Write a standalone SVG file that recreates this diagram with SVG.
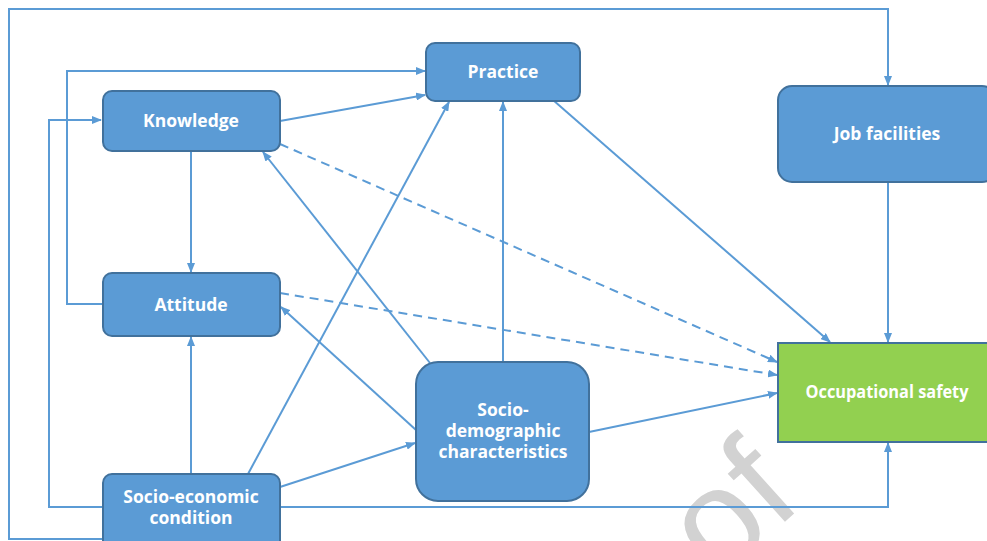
<svg xmlns="http://www.w3.org/2000/svg" width="987" height="541" viewBox="0 0 987 541">
<defs>
<marker id="ah" markerWidth="10" markerHeight="8" refX="9" refY="4" orient="auto" markerUnits="userSpaceOnUse">
<path d="M0,0 L10,4 L0,8 Z" fill="#5b9bd5"/>
</marker>
<style>
.c{fill:none;stroke:#5b9bd5;stroke-width:2;marker-end:url(#ah)}
.d{stroke-dasharray:9,6}
.b{fill:#5b9bd5;stroke:#41719c;stroke-width:2}
.g{fill:#92d050;stroke:#41719c;stroke-width:2}
.t{fill:#fff;font-family:"Open Sans","DejaVu Sans",sans-serif;font-weight:700;font-size:17.5px;text-anchor:middle}
.w{fill:#d2d2d2;font-family:"Liberation Sans",sans-serif;font-size:140px}
</style>
</defs>
<rect width="987" height="541" fill="#fff"/>
<text class="w" transform="translate(718,582) rotate(-42)">of</text>
<g id="connectors">
<path class="c" d="M103,539 L9,539 L9,9 L888,9 L888,85"/>
<path class="c" d="M103,507 L49,507 L49,120 L101,120"/>
<path class="c" d="M103,304 L67,304 L67,71 L425,71"/>
<path class="c" d="M280,121 L425,95"/>
<path class="c" d="M191,151 L191,272"/>
<path class="c" d="M191,474 L191,337"/>
<path class="c" d="M248,474 L449,102"/>
<path class="c" d="M280,487 L415,443"/>
<path class="c" d="M280,507 L888,507 L888,443"/>
<path class="c" d="M430,363 L263,152"/>
<path class="c" d="M416,430 L281,307"/>
<path class="c" d="M503,362 L503,102"/>
<path class="c" d="M589,432 L777,393"/>
<path class="c" d="M553,100 L830,342"/>
<path class="c" d="M888,182 L888,342"/>
<path class="c d" d="M280,144 L777,362"/>
<path class="c d" d="M280,293 L777,375"/>
</g>
<g id="knowledge"><rect class="b" x="103" y="91" width="177" height="60" rx="9"/><text class="t" x="191" y="127">Knowledge</text></g>
<g id="practice"><rect class="b" x="426" y="43" width="154" height="58" rx="9"/><text class="t" x="503" y="78">Practice</text></g>
<g id="job-facilities"><rect class="b" x="778" y="86" width="218" height="96" rx="14"/><text class="t" x="887" y="140">Job facilities</text></g>
<g id="attitude"><rect class="b" x="103" y="273" width="177" height="63" rx="9"/><text class="t" x="191" y="311">Attitude</text></g>
<g id="socio-economic"><rect class="b" x="103" y="474" width="177" height="80" rx="9"/><text class="t" x="191" y="503">Socio-economic</text><text class="t" x="191" y="524">condition</text></g>
<g id="socio-demographic"><rect class="b" x="416" y="362" width="173" height="139" rx="22"/><text class="t" x="503" y="416">Socio-</text><text class="t" x="503" y="437">demographic</text><text class="t" x="503" y="458">characteristics</text></g>
<g id="occupational-safety"><rect class="g" x="778" y="343" width="218" height="99"/><text class="t" x="887" y="398" textLength="163" lengthAdjust="spacingAndGlyphs">Occupational safety</text></g>
</svg>
